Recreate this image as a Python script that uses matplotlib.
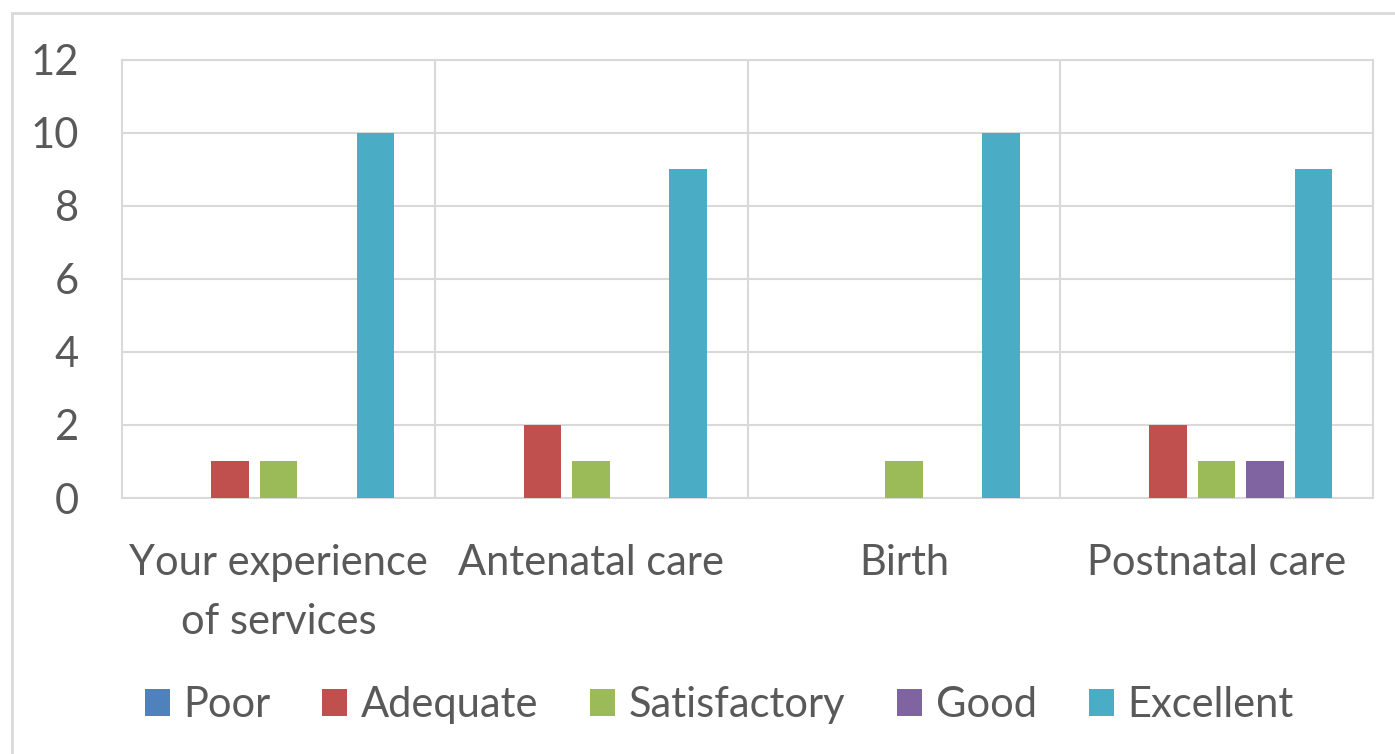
import matplotlib
matplotlib.use("Agg")
import matplotlib.pyplot as plt
import matplotlib.patches as mpatches
import numpy as np

categories = ["Your experience\nof services", "Antenatal care", "Birth", "Postnatal care"]
series_names = ["Poor", "Adequate", "Satisfactory", "Good", "Excellent"]
poor = [0, 0, 0, 0]
adequate = [1, 2, 0, 2]
satisfactory = [1, 1, 1, 1]
good = [0, 0, 0, 1]
excellent = [10, 9, 10, 9]
colors = ["#4F81BD", "#C0504D", "#9BBB59", "#8064A2", "#4BACC6"]
yticks = [0, 2, 4, 6, 8, 10, 12]

plt.rcParams['font.family'] = ['Lato', 'DejaVu Sans']
text_color = "#595959"
grid_color = "#D9D9D9"
fs = 30

fig = plt.figure(figsize=(13.95, 7.54), dpi=100)
ax = fig.add_axes([122/1395, 1-498/754, (1373-122)/1395, (498-59.5)/754])

x = np.arange(len(categories))
step = 0.155
width = 0.12
data = [poor, adequate, satisfactory, good, excellent]
handles = []
for i, (name, vals, c) in enumerate(zip(series_names, data, colors)):
    b = ax.bar(x + (i - 2) * step, vals, width=width, color=c, label=name, zorder=3)
    handles.append(b)

ax.set_xlim(-0.5, len(categories) - 0.5)
ax.set_ylim(0, 12)
ax.set_yticks(yticks)
ax.set_yticklabels([str(t) for t in yticks])
ax.set_xticks(x)
ax.set_xticklabels(categories, linespacing=1.68)
ax.yaxis.grid(True, color=grid_color, lw=1.5, zorder=0)
for k in range(1, len(categories)):
    ax.axvline(k - 0.5, color=grid_color, lw=1.5, zorder=0)
for s in ax.spines.values():
    s.set_color(grid_color)
    s.set_linewidth(1.5)
ax.tick_params(axis='both', length=0, colors=text_color, labelsize=fs)
ax.tick_params(axis='y', pad=31)
ax.tick_params(axis='x', pad=33)

leg = fig.legend(handles=handles, labels=series_names, loc='center',
                 bbox_to_anchor=(719/1395, 1-705/754), ncol=5, frameon=False,
                 fontsize=fs, handlelength=0.6, handleheight=0.6,
                 handletextpad=0.32, columnspacing=1.25)
for t in leg.get_texts():
    t.set_color(text_color)

border = mpatches.Rectangle((12/1395, -0.2), 1.5, 1.2 - 13/754,
                            transform=fig.transFigure, fill=False,
                            edgecolor=grid_color, lw=2, zorder=0)
fig.patches.append(border)

fig.savefig("out.png", dpi=100)
